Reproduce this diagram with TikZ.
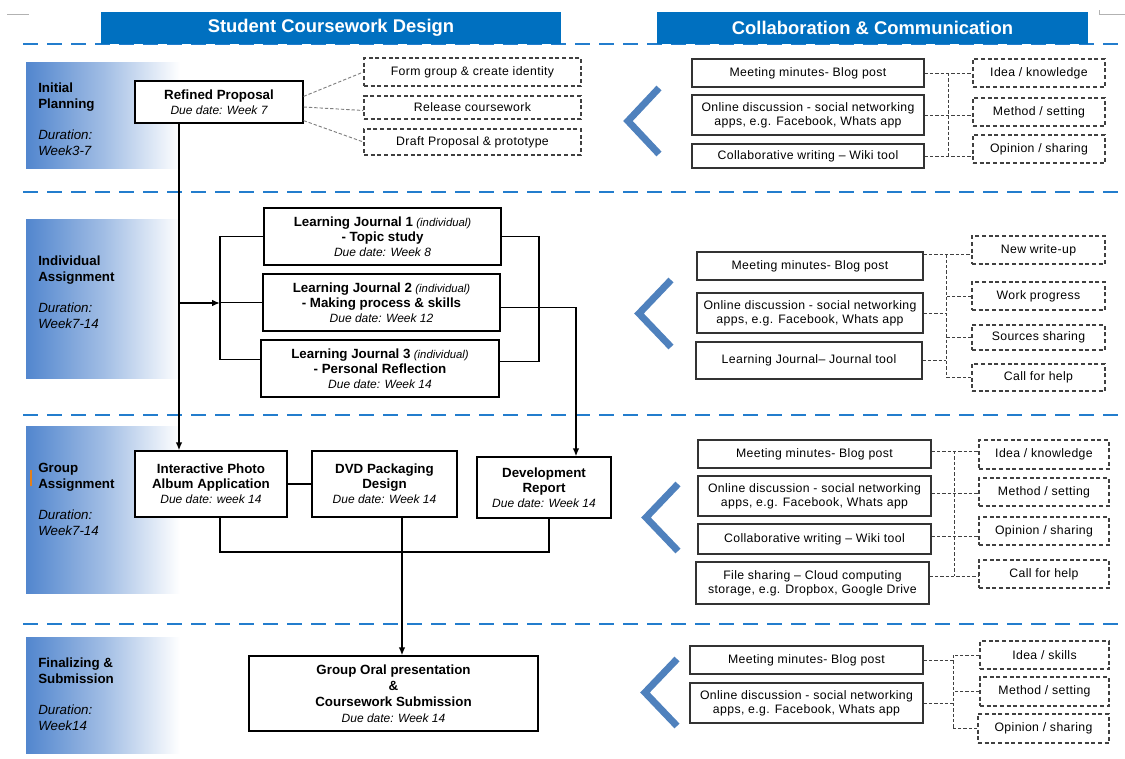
\documentclass[tikz,border=0pt]{standalone}
\usepackage{fontspec}
\setmainfont{Liberation Sans}
\usetikzlibrary{arrows.meta,calc}

\definecolor{headblue}{RGB}{0,112,192}
\definecolor{sepblue}{RGB}{35,125,205}
\definecolor{chevblue}{RGB}{79,129,189}
\definecolor{phaseblue}{RGB}{82,134,206}

\newcommand{\ttl}[1]{{\bfseries\fontsize{10}{11}\selectfont #1}}
\newcommand{\duedate}[1]{{\itshape Due date: #1}}
\newcommand{\indiv}{{\itshape\fontsize{8.5}{10}\selectfont (individual)}}

\begin{document}
\begin{tikzpicture}[x=0.75pt,y=-0.75pt,
    rect/.style n args={4}{at={({(#1+#3)/2},{(#2+#4)/2})}, anchor=center,
      minimum width={(#3-#1)*0.75pt}, minimum height={(#4-#2)*0.75pt}},
    box/.style={draw, line width=0.9pt, fill=white, inner sep=0pt, align=center,
      font=\fontsize{9}{11.3}\selectfont},
    cbox/.style={draw=black!80, line width=0.9pt, fill=white, inner sep=0pt, align=center,
      font=\fontsize{9.2}{10.5}\selectfont\addfontfeatures{LetterSpace=3}},
    dbox/.style={draw=black!75, dash pattern=on 3pt off 2pt, line width=0.8pt, inner sep=0pt,
      align=center, font=\fontsize{9.2}{11}\selectfont\addfontfeatures{LetterSpace=3}},
    head/.style={fill=headblue, inner sep=0pt, text=white,
      font=\bfseries\fontsize{13.8}{16}\selectfont},
    phase/.style={left color=phaseblue, right color=white, middle color=phaseblue!55},
    phasetext/.style={anchor=north west, align=left, inner sep=0pt,
      font=\fontsize{10}{12}\selectfont},
    sep/.style={draw=sepblue, line width=1.9pt, dash pattern=on 11pt off 7pt},
    chev/.style={draw=chevblue, line width=5.2pt, line join=miter},
    flow/.style={line width=1.3pt, -{Latex[length=6pt,width=5pt]}},
    joint/.style={line width=1.3pt},
    link/.style={draw=black!75, line width=0.7pt, dash pattern=on 2.5pt off 1.5pt},
    glink/.style={draw=gray, line width=0.7pt, dash pattern=on 2.5pt off 1.5pt}]
  \useasboundingbox (0,0) rectangle (1125,758);

  % page marks
  \draw[gray!60, line width=0.6pt] (7,14) -- (29,14);
  \draw[gray!60, line width=0.6pt] (1099,10) -- (1099,14) -- (1125,14);

  % phase bands
  \fill[phase] (26,62) rectangle (180,168);
  \fill[phase] (26,219) rectangle (180,378);
  \fill[phase] (26,426) rectangle (180,593);
  \fill[phase] (26,637) rectangle (180,753);
  \draw[orange!60!brown, line width=1pt] (31,470) -- (31,486);

  % separators
  \draw[sep] (23,44) -- (1125,44);
  \draw[sep] (23,192) -- (1125,192);
  \draw[sep] (23,415) -- (1125,415);
  \draw[sep] (23,624) -- (1125,624);

  % headers
  \node[head, rect={101}{12}{561}{44}] (hdesign) {Student Coursework Design};
  \node[head, rect={657}{12}{1088}{44}] (hcollab) {Collaboration \& Communication};

  % phase labels
  \node[phasetext] (lab1) at (38,83)
    {\textbf{Initial}\\\textbf{Planning}\\[11pt]\textit{Duration:}\\\textit{Week3-7}};
  \node[phasetext] (lab2) at (38,256)
    {\textbf{Individual}\\\textbf{Assignment}\\[11pt]\textit{Duration:}\\\textit{Week7-14}};
  \node[phasetext] (lab3) at (38,463)
    {\textbf{Group}\\\textbf{Assignment}\\[11pt]\textit{Duration:}\\\textit{Week7-14}};
  \node[phasetext] (lab4) at (38,658)
    {\textbf{Finalizing \&}\\\textbf{Submission}\\[11pt]\textit{Duration:}\\\textit{Week14}};

  % coursework boxes
  \node[box, rect={135}{81}{303}{123}] (refined) {\ttl{Refined Proposal}\\\duedate{Week 7}};
  \node[dbox, rect={364}{58}{581}{86}] (formgroup) {Form group \& create identity};
  \node[dbox, rect={364}{96}{581}{119}] (release) {Release coursework};
  \node[dbox, rect={364}{129}{581}{155}] (draft) {Draft Proposal \& prototype};

  \node[box, rect={264}{208}{501}{265}] (lj1)
    {\ttl{Learning Journal 1} \indiv\\\ttl{- Topic study}\\\duedate{Week 8}};
  \node[box, rect={263}{274}{500}{331}] (lj2)
    {\ttl{Learning Journal 2} \indiv\\\ttl{- Making process \& skills}\\\duedate{Week 12}};
  \node[box, rect={261}{340}{499}{397}] (lj3)
    {\ttl{Learning Journal 3} \indiv\\\ttl{- Personal Reflection}\\\duedate{Week 14}};

  \node[box, rect={135}{451}{287}{517}] (photo)
    {\ttl{Interactive Photo}\\\ttl{Album Application}\\\duedate{week 14}};
  \node[box, rect={312}{451}{457}{517}] (dvd)
    {\ttl{DVD Packaging}\\\ttl{Design}\\\duedate{Week 14}};
  \node[box, rect={477}{457}{611}{518}] (dev)
    {\ttl{Development}\\\ttl{Report}\\\duedate{Week 14}};

  \node[box, font=\fontsize{9}{12}\selectfont, rect={249}{656}{538}{731}] (oral)
    {\ttl{Group Oral presentation}\\\ttl{\&}\\\ttl{Coursework Submission}\\\duedate{Week 14}};

  % coursework flow
  \coordinate (m) at (179,303);
  \coordinate (bl) at (220,303);
  \coordinate (br) at (539,303);
  \coordinate (dr) at (576,308);
  \coordinate (gb) at (220,552);
  \coordinate (ge) at (549,552);
  \coordinate (gd) at (402,552);
  \begin{scope}
    \draw[flow] (refined.south -| m) -- (photo.north -| m);
    \draw[flow] (m) -- (bl);
    \draw[joint] (lj1.west) -| (bl) |- ($(lj3.west)+(0,-9)$);
    \draw[joint] (lj2.west) -- (lj2.west -| bl);
    \draw[joint] (lj1.east) -| (br) |- ($(lj3.east)+(0,-7)$);
    \draw[flow] ($(lj2.east)+(0,5)$) -| (dev.north -| dr);
    \draw[joint] (photo.east) -- (dvd.west);
    \draw[joint] (photo.south -| gb) -- (gb) -- (ge) -- (dev.south -| ge);
    \draw[flow] (dvd.south -| gd) -- (oral.north -| gd);
  \end{scope}
  \begin{scope}
    \draw[glink] ($(refined.north east)+(0,16)$) -- (formgroup.west);
    \draw[glink] ($(refined.east)+(0,5)$) -- ($(release.west)+(0,3)$);
    \draw[glink] ($(refined.south east)+(0,-3)$) -- (draft.west);
  \end{scope}

  % chevrons
  \draw[chev] (659,88) -- (628,121) -- (659,154);
  \draw[chev] (671,280) -- (639,313.5) -- (671,347);
  \draw[chev] (678,484) -- (646,517.5) -- (678,551);
  \draw[chev] (677,659) -- (645,692.5) -- (677,726);

  % collaboration, phase 1
  \node[cbox, rect={692}{59}{924}{87}] (meet1) {Meeting minutes- Blog post};
  \node[cbox, rect={692}{95}{924}{135}] (online1)
    {Online discussion - social networking\\apps, e.g. Facebook, Whats app};
  \node[cbox, rect={692}{144}{924}{168}] (wiki1) {Collaborative writing -- Wiki tool};
  \node[dbox, rect={973}{59}{1105}{87}] (idea1) {Idea / knowledge};
  \node[dbox, rect={973}{98}{1105}{126}] (method1) {Method / setting};
  \node[dbox, rect={973}{135}{1105}{163}] (opinion1) {Opinion / sharing};
  \coordinate (v1) at (948,0);
  \begin{scope}
    \draw[link] (meet1.east) -- (meet1.east -| idea1.west);
    \draw[link] (online1.east) -- (online1.east -| method1.west);
    \draw[link] (wiki1.east) -- (wiki1.east -| opinion1.west);
    \draw[link] (meet1.east -| v1) -- (wiki1.east -| v1);
  \end{scope}

  % collaboration, phase 2
  \node[cbox, rect={697}{252}{923}{280}] (meet2) {Meeting minutes- Blog post};
  \node[cbox, rect={697}{293}{923}{333}] (online2)
    {Online discussion - social networking\\apps, e.g. Facebook, Whats app};
  \node[cbox, rect={696}{342}{922}{379}] (journal2) {Learning Journal-- Journal tool};
  \node[dbox, rect={972}{236}{1105}{264}] (newwrite2) {New write-up};
  \node[dbox, rect={972}{282}{1105}{310}] (progress2) {Work progress};
  \node[dbox, rect={972}{325}{1105}{350}] (sources2) {Sources sharing};
  \node[dbox, rect={972}{364}{1105}{391}] (callhelp2) {Call for help};
  \coordinate (v2) at (946,0);
  \coordinate (t2) at ($(meet2.north east)+(0,3)$);
  \begin{scope}
    \draw[link] (t2) -- (t2 -| newwrite2.west);
    \draw[link] (online2.east) -- (online2.east -| v2);
    \draw[link] (journal2.east) -- (journal2.east -| v2);
    \draw[link] (progress2.west) -- (progress2.west -| v2);
    \draw[link] (sources2.west) -- (sources2.west -| v2);
    \draw[link] (callhelp2.west) -- (callhelp2.west -| v2);
    \draw[link] (t2 -| v2) -- (callhelp2.west -| v2);
  \end{scope}

  % collaboration, phase 3
  \node[cbox, rect={698}{440}{931}{468}] (meet3) {Meeting minutes- Blog post};
  \node[cbox, rect={698}{476}{931}{516}] (online3)
    {Online discussion - social networking\\apps, e.g. Facebook, Whats app};
  \node[cbox, rect={698}{524}{931}{554}] (collab3) {Collaborative writing -- Wiki tool};
  \node[cbox, rect={696}{562}{929}{604}] (file3)
    {File sharing -- Cloud computing\\storage, e.g. Dropbox, Google Drive};
  \node[dbox, rect={979}{440}{1109}{469}] (idea3) {Idea / knowledge};
  \node[dbox, rect={979}{478}{1109}{506}] (method3) {Method / setting};
  \node[dbox, rect={979}{517}{1109}{545}] (opinion3) {Opinion / sharing};
  \node[dbox, rect={979}{560}{1109}{588}] (callhelp3) {Call for help};
  \coordinate (v3) at (954,0);
  \coordinate (t3a) at ($(meet3.east)+(0,-3)$);
  \coordinate (t3b) at ($(online3.east)+(0,-3)$);
  \coordinate (t3c) at ($(collab3.east)+(0,-3)$);
  \coordinate (t3d) at ($(file3.east)+(0,-7)$);
  \begin{scope}
    \draw[link] (t3a) -- (t3a -| idea3.west);
    \draw[link] (t3b) -- (t3b -| method3.west);
    \draw[link] (t3c) -- (t3c -| opinion3.west);
    \draw[link] (t3d) -- (t3d -| callhelp3.west);
    \draw[link] (t3a -| v3) -- (t3d -| v3);
  \end{scope}

  % collaboration, phase 4
  \node[cbox, rect={690}{646}{923}{674}] (meet4) {Meeting minutes- Blog post};
  \node[cbox, rect={690}{683}{923}{723}] (online4)
    {Online discussion - social networking\\apps, e.g. Facebook, Whats app};
  \node[dbox, rect={980}{641}{1109}{669}] (skills4) {Idea / skills};
  \node[dbox, rect={980}{677}{1109}{706}] (method4) {Method / setting};
  \node[dbox, rect={978}{714}{1109}{743}] (opinion4) {Opinion / sharing};
  \coordinate (v4) at (953,0);
  \begin{scope}
    \draw[link] (meet4.east) -- (meet4.east -| v4);
    \draw[link] (online4.east) -- (online4.east -| v4);
    \draw[link] (skills4.west) -- (skills4.west -| v4);
    \draw[link] (method4.west) -- (method4.west -| v4);
    \draw[link] (opinion4.west) -- (opinion4.west -| v4);
    \draw[link] (skills4.west -| v4) -- (opinion4.west -| v4);
  \end{scope}
\end{tikzpicture}
\end{document}
